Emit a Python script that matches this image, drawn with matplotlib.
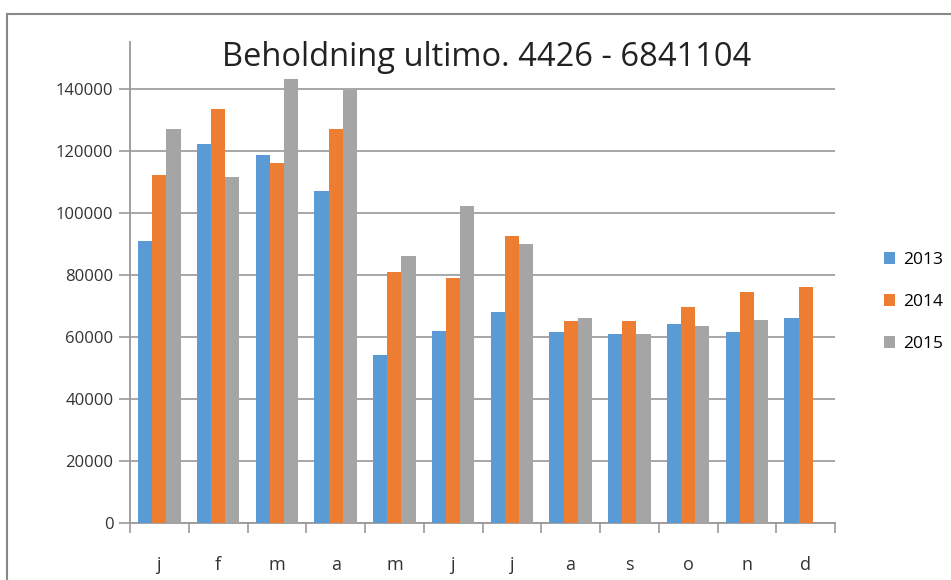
import matplotlib.pyplot as plt
import numpy as np
from matplotlib.patches import Rectangle

months = ['j', 'f', 'm', 'a', 'm', 'j', 'j', 'a', 's', 'o', 'n', 'd']
v2013 = [91000, 122000, 118500, 107000, 54000, 62000, 68000, 61500, 61000, 64000, 61500, 66000]
v2014 = [112000, 133500, 116000, 127000, 81000, 79000, 92500, 65000, 65000, 69500, 74500, 76000]
v2015 = [127000, 111500, 143000, 139500, 86000, 102000, 90000, 66000, 61000, 63500, 65500, np.nan]
years = ['2013', '2014', '2015']
colors = ['#5B9BD5', '#ED7D31', '#A5A5A5']

plt.rcParams['font.family'] = ['Open Sans', 'DejaVu Sans']

fig = plt.figure(figsize=(9.51, 5.80), dpi=100)
ax = fig.add_axes([130 / 951, 1 - 523 / 580, 705 / 951, 481 / 580])

x = np.arange(len(months))
w = 0.24
for i, (vals, c, lab) in enumerate(zip([v2013, v2014, v2015], colors, years)):
    ax.bar(x + (i - 1) * w, vals, width=w, color=c, label=lab, zorder=3)

ax.set_xlim(-0.5, len(months) - 0.5)
ax.set_ylim(0, 155000)
ax.set_yticks(np.arange(0, 140001, 20000))
ax.set_yticklabels([str(v) for v in range(0, 140001, 20000)], fontsize=12, color='#333333')
ax.set_xticks(x)
ax.set_xticklabels(months, fontsize=13, color='#333333')
ax.set_xticks(np.arange(-0.5, len(months), 1), minor=True)
ax.tick_params(axis='x', which='major', length=0, pad=24)
ax.tick_params(axis='x', which='minor', length=7, color='#999999', width=1.2)
ax.tick_params(axis='y', length=8, color='#999999', width=1.2, pad=4)
ax.grid(axis='y', color='#A0A0A0', linewidth=1.3, zorder=0)
for s in ['top', 'right']:
    ax.spines[s].set_visible(False)
for s in ['left', 'bottom']:
    ax.spines[s].set_color('#999999')
    ax.spines[s].set_linewidth(1.3)

fig.text(487 / 951, 1 - 58 / 580, 'Beholdning ultimo. 4426 - 6841104',
         ha='center', va='center', fontsize=23.5, color='#222222')

ax.legend(loc='center left', bbox_to_anchor=(868 / 951, 1 - 302 / 580),
          bbox_transform=fig.transFigure, frameon=False, fontsize=12.5,
          handlelength=0.65, handleheight=0.65, handletextpad=0.5, labelspacing=1.5)

fig.patches.append(Rectangle((7 / 951, -0.1), 1.1, 1 - 14 / 580 + 0.1,
                             transform=fig.transFigure, fill=False,
                             edgecolor='#888888', linewidth=1.5))

fig.savefig('out.png', dpi=100)
